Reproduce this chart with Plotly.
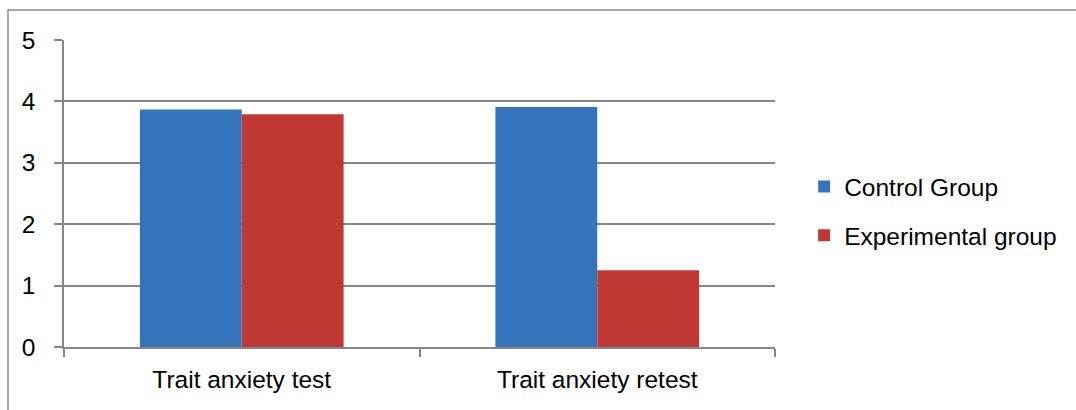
import plotly.graph_objects as go

# Mean trait anxiety scores per group
categories = ["Trait anxiety test", "Trait anxiety retest"]
control_group = [3.87, 3.91]
experimental_group = [3.79, 1.25]
y_ticks = [0, 1, 2, 3, 4, 5]

GRID = "#868686"
FONT = dict(family="Liberation Sans, Arial, sans-serif", size=24.5, color="#000000")

fig = go.Figure()
fig.add_trace(go.Bar(
    x=categories, y=control_group, name="Control Group",
    marker=dict(color="#3673BD", line=dict(width=0)),
    legendgroup="a",
))
fig.add_trace(go.Bar(
    x=categories, y=experimental_group, name="Experimental group",
    marker=dict(color="#BF3834", line=dict(width=0)),
    legendgroup="b",
))

fig.update_layout(
    width=1076, height=410,
    margin=dict(l=64, r=301, t=40, b=63),
    paper_bgcolor="white", plot_bgcolor="white",
    font=FONT,
    barmode="group", bargap=0.427, bargroupgap=0,
    legend=dict(
        x=1.041, xanchor="left", y=0.443, yanchor="middle",
        traceorder="grouped", tracegroupgap=14,
        font=FONT, bgcolor="rgba(0,0,0,0)",
    ),
    xaxis=dict(
        showgrid=False, showline=True, linecolor=GRID, linewidth=1.5,
        ticks="outside", tickson="boundaries", ticklen=8, tickcolor=GRID,
        tickwidth=1.5, ticklabelstandoff=10, tickfont=FONT,
    ),
    yaxis=dict(
        range=[0, 5], tickvals=y_ticks, showgrid=True, gridcolor=GRID,
        gridwidth=1.5, showline=True, linecolor=GRID, linewidth=1.5,
        ticks="outside", ticklen=8, tickcolor=GRID, tickwidth=1.5,
        ticklabelstandoff=14, tickfont=FONT, zeroline=False,
    ),
    shapes=[dict(
        type="rect", xref="paper", yref="paper",
        x0=(8 - 64) / 711, x1=1.6, y0=-0.5, y1=1 + 30 / 307,
        line=dict(color="#8C8C8C", width=1.5), layer="below",
    )],
)

fig.write_html("out.html")
